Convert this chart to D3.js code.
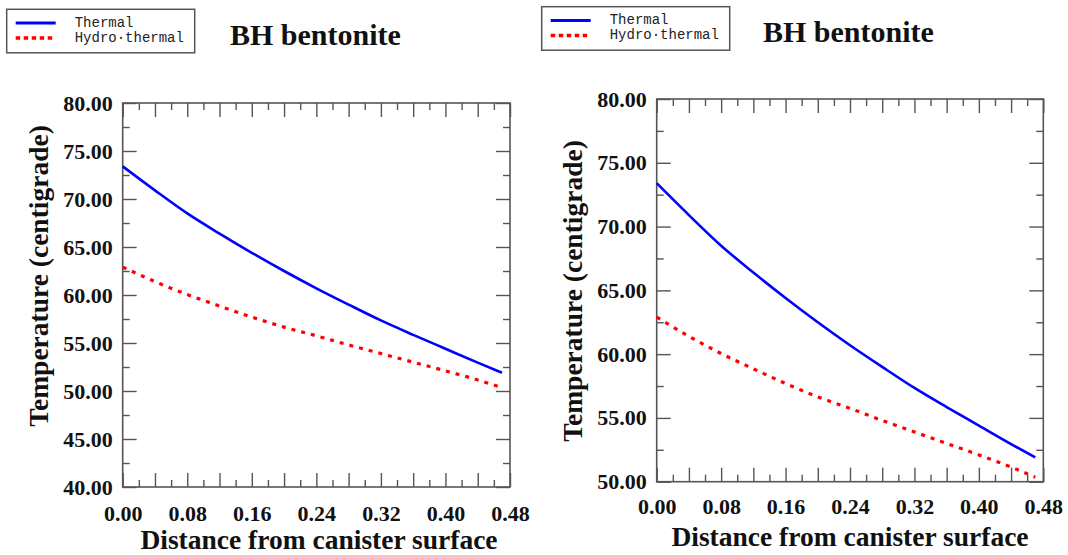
<!DOCTYPE html>
<html>
<head>
<meta charset="utf-8">
<script src="https://cdn.jsdelivr.net/npm/d3@7"></script>
<style>
  body { margin: 0; background: #fff; }
  svg { display: block; }
  .tick text { font-family: "Liberation Serif", "Times New Roman", serif; font-weight: bold; font-size: 22px; fill: #111; }
  .tick line { stroke: #555; stroke-width: 1.4; }
</style>
</head>
<body>
<div class="viewbox"></div>
<script>
// distance from canister surface (m)
const distance = [0, 0.04, 0.08, 0.12, 0.16, 0.20, 0.24, 0.28, 0.32, 0.36, 0.40, 0.44, 0.47];
// temperatures (centigrade)
const thermal = [73.4, 70.9, 68.5, 66.4, 64.4, 62.5, 60.7, 59.0, 57.35, 55.85, 54.4, 52.95, 51.9];
const hydroThermal = [62.9, 61.4, 60.05, 58.85, 57.7, 56.65, 55.75, 54.8, 53.9, 53.0, 52.1, 51.15, 50.35];

const seriesNames = ["Thermal", "Hydro\u00b7thermal"];
const xTicks = [0, 0.08, 0.16, 0.24, 0.32, 0.40, 0.48];
const titleText = "BH bentonite";
const xLabel = "Distance from canister surface";
const yLabel = "Temperature (centigrade)";

const svg = d3.select(".viewbox").append("svg")
  .attr("width", 1068)
  .attr("height", 555);

const serif = '"Liberation Serif", "Times New Roman", serif';
const mono = '"Liberation Mono", "Courier New", monospace';

function drawPanel(p) {
  const x = d3.scaleLinear().domain([0, 0.48]).range([p.left, p.left + p.w]);
  const y = d3.scaleLinear().domain(p.yDomain).range([p.top + p.h, p.top]);

  const yMajor = d3.range(p.yDomain[0], p.yDomain[1] + 0.1, 5);
  const yMinor = d3.range(p.yDomain[0] + 2.5, p.yDomain[1], 5);
  const xMajor = d3.range(0, 0.481, 0.04);
  const xMinor = d3.range(0.02, 0.48, 0.04);

  const g = svg.append("g");

  // left axis with labels
  g.append("g").attr("transform", `translate(${p.left},0)`)
    .call(d3.axisLeft(y).tickValues(yMajor).tickSize(-14).tickPadding(10).tickFormat(d3.format(".2f")));
  g.append("g").attr("transform", `translate(${p.left},0)`)
    .call(d3.axisLeft(y).tickValues(yMinor).tickSize(-7).tickFormat(""));
  // right axis mirror
  g.append("g").attr("transform", `translate(${p.left + p.w},0)`)
    .call(d3.axisRight(y).tickValues(yMajor).tickSize(-14).tickFormat(""));
  g.append("g").attr("transform", `translate(${p.left + p.w},0)`)
    .call(d3.axisRight(y).tickValues(yMinor).tickSize(-7).tickFormat(""));
  // bottom axis with labels
  const xLabelTicks = new Set(xTicks.map(v => v.toFixed(2)));
  g.append("g").attr("transform", `translate(0,${p.top + p.h})`)
    .call(d3.axisBottom(x).tickValues(xMajor).tickSize(-14).tickPadding(p.xPad)
      .tickFormat(v => xLabelTicks.has(v.toFixed(2)) ? v.toFixed(2) : ""));
  g.append("g").attr("transform", `translate(0,${p.top + p.h})`)
    .call(d3.axisBottom(x).tickValues(xMinor).tickSize(-7).tickFormat(""));
  // top axis mirror
  g.append("g").attr("transform", `translate(0,${p.top})`)
    .call(d3.axisTop(x).tickValues(xMajor).tickSize(-14).tickFormat(""));
  g.append("g").attr("transform", `translate(0,${p.top})`)
    .call(d3.axisTop(x).tickValues(xMinor).tickSize(-7).tickFormat(""));

  g.selectAll(".domain").remove();

  // frame
  g.append("rect")
    .attr("x", p.left).attr("y", p.top)
    .attr("width", p.w).attr("height", p.h)
    .attr("fill", "none").attr("stroke", "#555").attr("stroke-width", 1.6);

  const line = d3.line().x((d, i) => x(distance[i])).y(d => y(d)).curve(d3.curveMonotoneX);

  g.append("path").datum(thermal)
    .attr("d", line)
    .attr("fill", "none").attr("stroke", "#0000ff").attr("stroke-width", 2.6);
  g.append("path").datum(hydroThermal)
    .attr("d", line)
    .attr("fill", "none").attr("stroke", "#ff0000").attr("stroke-width", 3.2)
    .attr("stroke-dasharray", "4,6");

  // axis titles
  g.append("text")
    .attr("x", p.xTitle[0]).attr("y", p.xTitle[1])
    .attr("text-anchor", "middle")
    .style("font-family", serif).style("font-size", "27.5px").style("font-weight", "bold").attr("fill", "#111")
    .text(xLabel);
  g.append("text")
    .attr("transform", `translate(${p.yTitle[0]},${p.yTitle[1]}) rotate(-90)`)
    .attr("text-anchor", "middle")
    .style("font-family", serif).style("font-size", "27.5px").style("font-weight", "bold").attr("fill", "#111")
    .text(yLabel);

  // chart title
  g.append("text")
    .attr("x", p.title[0]).attr("y", p.title[1])
    .style("font-family", serif).style("font-size", "30px").style("font-weight", "bold").attr("fill", "#111")
    .text(titleText);

  // legend box
  const lg = g.append("g").attr("transform", `translate(${p.legend[0]},${p.legend[1]})`);
  lg.append("rect")
    .attr("width", 188).attr("height", 43.5)
    .attr("fill", "#fff").attr("stroke", "#555").attr("stroke-width", 1.5);
  const styles = [
    { color: "#0000ff", dash: null, width: 3 },
    { color: "#ff0000", dash: "4.5,3.5", width: 3.5 }
  ];
  seriesNames.forEach((name, i) => {
    const yy = 13.7 + i * 15;
    lg.append("line")
      .attr("x1", 9).attr("x2", 49).attr("y1", yy).attr("y2", yy)
      .attr("stroke", styles[i].color).attr("stroke-width", styles[i].width)
      .attr("stroke-dasharray", styles[i].dash);
    lg.append("text")
      .attr("x", 68).attr("y", yy + 4)
      .style("font-family", mono).style("font-size", "14px").attr("fill", "#222")
      .text(name);
  });
}

drawPanel({
  left: 122.7, top: 103, w: 387.3, h: 384, yDomain: [40, 80], xPad: 18,
  xTitle: [319, 549], yTitle: [48, 276], title: [230, 45], legend: [6.7, 9.3]
});
drawPanel({
  left: 656.7, top: 99, w: 386.6, h: 382.7, yDomain: [50, 80], xPad: 17,
  xTitle: [850, 546], yTitle: [582, 291], title: [763, 42], legend: [541.7, 6.7]
});
</script>
</body>
</html>
